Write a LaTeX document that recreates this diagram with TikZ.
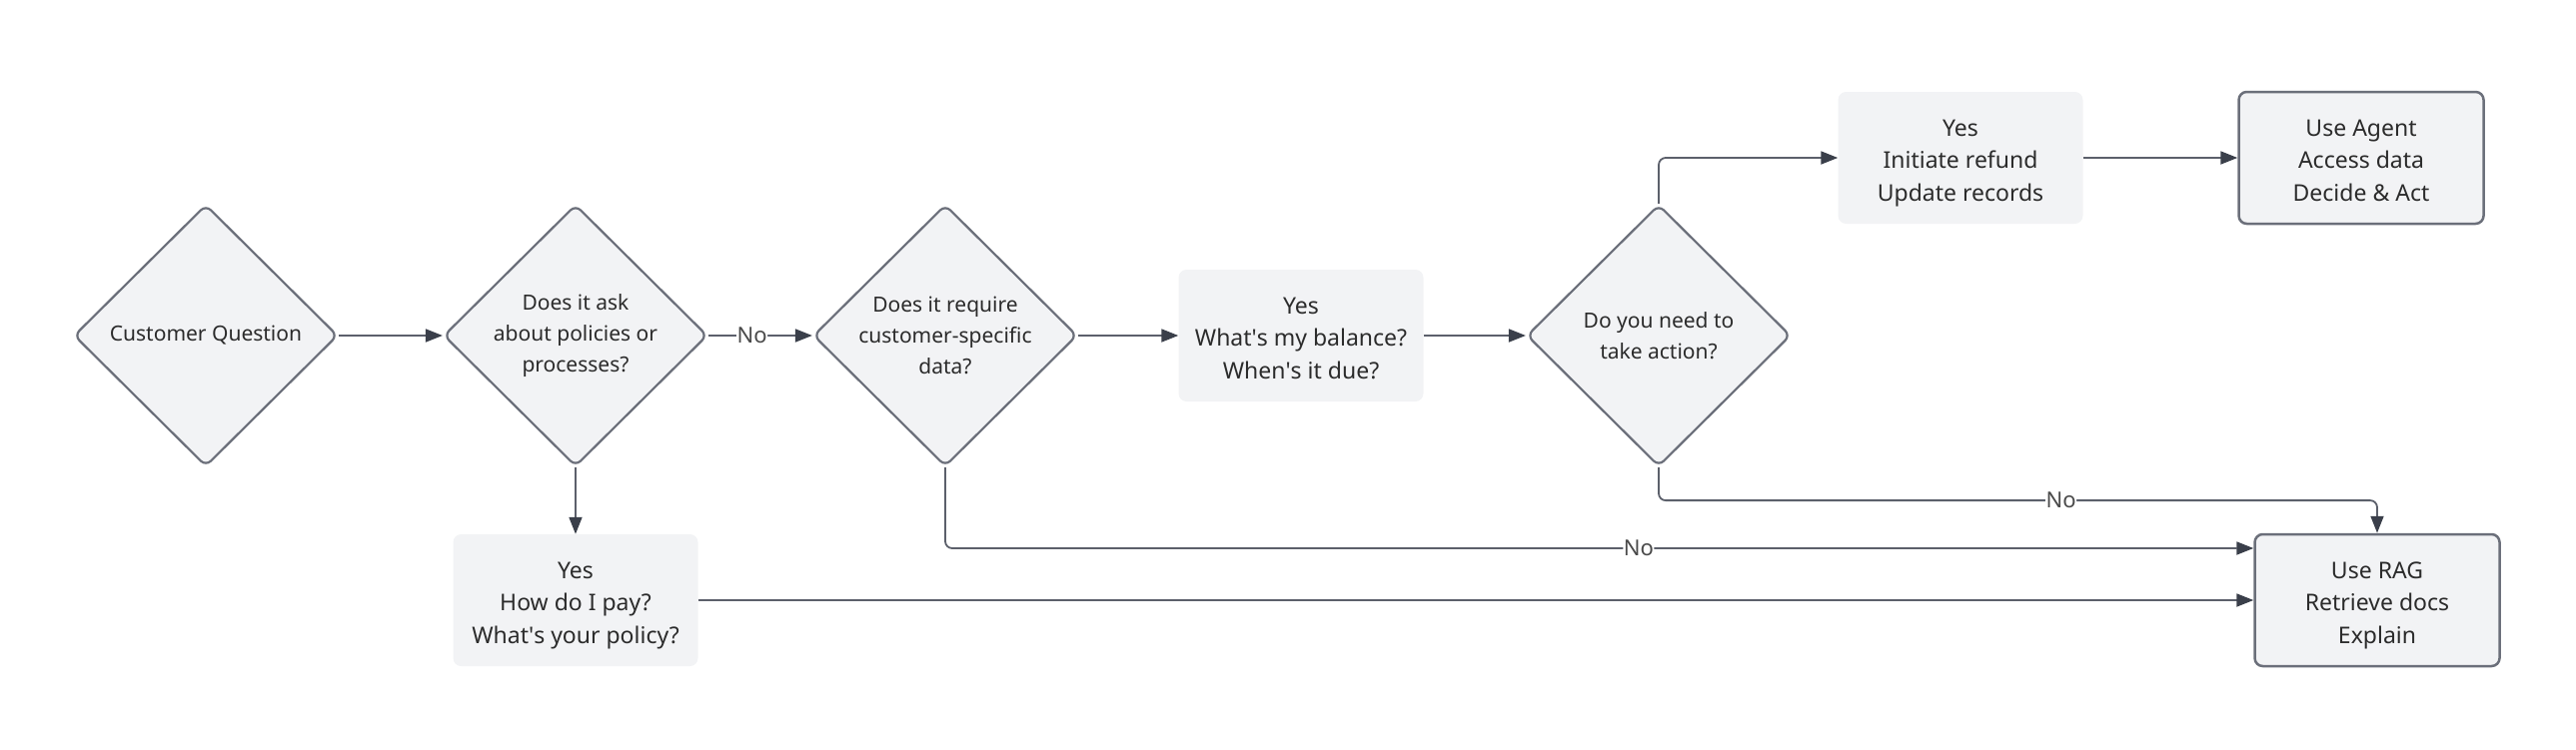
\documentclass[tikz,border=0pt]{standalone}
\usepackage{fontspec}
\setmainfont{Noto Sans}
\usetikzlibrary{shapes.geometric,arrows.meta,calc}
\definecolor{nodefill}{HTML}{F2F3F5}
\definecolor{nodeline}{HTML}{6B6F7A}
\definecolor{edgeline}{HTML}{5C606B}
\definecolor{tipcol}{HTML}{3A3F4A}
\definecolor{txt}{HTML}{2B2B2B}
\definecolor{lbltxt}{HTML}{4A4A4A}
\newcommand{\apos}{\textquotesingle}
\tikzset{
  decision/.style={shape=diamond, draw=nodeline, fill=nodefill, line width=2.2pt,
    minimum width=264pt, minimum height=262pt, inner sep=0pt, rounded corners=7pt,
    align=center, text=txt, font=\fontsize{21}{31}\selectfont},
  plainbox/.style={rectangle, fill=nodefill, rounded corners=8pt,
    minimum width=245pt, minimum height=132pt, align=center, text=txt,
    text height=86pt, text depth=0pt,
    font=\fontsize{23}{32.5}\selectfont},
  resultbox/.style={plainbox, draw=nodeline, line width=2.5pt},
  conn/.style={draw=edgeline, line width=1.8pt, rounded corners=7pt,
    -{Triangle[length=17pt,width=13pt,color=tipcol]}},
  lbl/.style={fill=white, inner sep=0.5pt, text=lbltxt, font=\fontsize{22}{25}\selectfont}
}
\begin{document}
\begin{tikzpicture}[x=1pt,y=-1pt]
\useasboundingbox (0,0) rectangle (2578,750);
\node[decision] (cq) at (206,336) {Customer Question};
\node[decision] (d1) at (576,336) {Does it ask\\about policies or\\processes?};
\node[decision] (d2) at (946,336) {Does it require\\customer-specific\\data?};
\node[plainbox] (bal) at (1302,336) {Yes\\What\apos s my balance?\\When\apos s it due?};
\node[decision] (d3) at (1660,336) {Do you need to\\take action?};
\node[plainbox] (ref) at (1962,158) {Yes\\Initiate refund\\Update records};
\node[resultbox] (agent) at (2363,158) {Use Agent\\Access data\\Decide \& Act};
\node[plainbox] (pay) at (576,601) {Yes\\How do I pay?\\What\apos s your policy?};
\node[resultbox] (rag) at (2379,601) {Use RAG\\Retrieve docs\\Explain};
\coordinate (ragin) at ($(rag.west)+(0,-52)$);

\draw[conn] (cq.east) -- (d1.west);
\draw[conn] (d1.south) -- (pay.north);
\draw[conn] (d1.east) -- node[lbl, pos=0.42]{No} (d2.west);
\draw[conn] (d2.east) -- (bal.west);
\draw[conn] (bal.east) -- (d3.west);
\draw[conn] (d3.north) |- (ref.west);
\draw[conn] (ref.east) -- (agent.west);
\draw[conn] (pay.east) -- (rag.west);
\draw[conn] (d2.south) |- node[lbl, pos=0.765]{No} (ragin);
\draw[conn] (d3.south) -- ++(0,33) -| node[lbl, pos=0.28]{No} (rag.north);
\end{tikzpicture}
\end{document}
